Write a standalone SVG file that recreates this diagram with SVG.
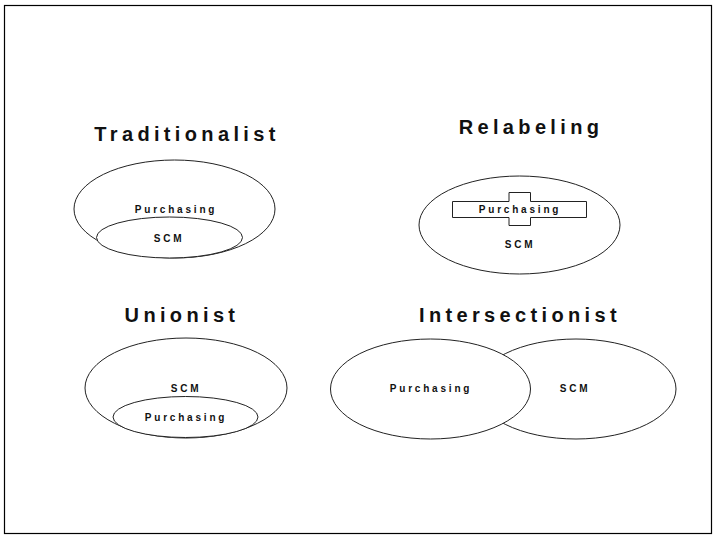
<svg xmlns="http://www.w3.org/2000/svg" width="720" height="540" viewBox="0 0 720 540">
<style>
.t{font-family:"Liberation Sans",Arial,sans-serif;font-weight:bold;font-size:20px;letter-spacing:4.35px;fill:#111;text-anchor:middle}
.l{font-family:"Liberation Sans",Arial,sans-serif;font-weight:bold;font-size:10px;letter-spacing:2.8px;fill:#111;text-anchor:middle}
.s{fill:#fff;stroke:#222;stroke-width:1}
</style>
<rect x="0" y="0" width="720" height="540" fill="#fff"/>
<rect x="4.5" y="5.5" width="707" height="528" fill="none" stroke="#000" stroke-width="1.2"/>
<g id="traditionalist">
<text class="t" x="187" y="141">Traditionalist</text>
<ellipse class="s" cx="174.5" cy="209" rx="100.5" ry="49"/>
<ellipse class="s" cx="169.5" cy="237.5" rx="73" ry="20.5"/>
<text class="l" x="176" y="213">Purchasing</text>
<text class="l" x="169" y="242">SCM</text>
</g>
<g id="relabeling">
<text class="t" x="531" y="134">Relabeling</text>
<ellipse class="s" cx="519.5" cy="225" rx="100.5" ry="49"/>
<path class="s" d="M509,192.5 H530.5 V201.5 H586.5 V217.5 H530.5 V225.5 H509 V217.5 H452.5 V201.5 H509 Z"/>
<text class="l" x="520" y="213">Purchasing</text>
<text class="l" x="520" y="248">SCM</text>
</g>
<g id="unionist">
<text class="t" x="182" y="322">Unionist</text>
<ellipse class="s" cx="186" cy="388" rx="101" ry="50"/>
<ellipse class="s" cx="185.5" cy="417" rx="72.5" ry="20.5"/>
<text class="l" x="186" y="392">SCM</text>
<text class="l" x="186" y="421">Purchasing</text>
</g>
<g id="intersectionist">
<text class="t" x="520" y="322">Intersectionist</text>
<ellipse class="s" cx="576" cy="389" rx="100" ry="50"/>
<ellipse class="s" cx="430.5" cy="389" rx="100" ry="50"/>
<text class="l" x="431" y="392">Purchasing</text>
<text class="l" x="575" y="392">SCM</text>
</g>
<g id="connectors"></g>
</svg>
